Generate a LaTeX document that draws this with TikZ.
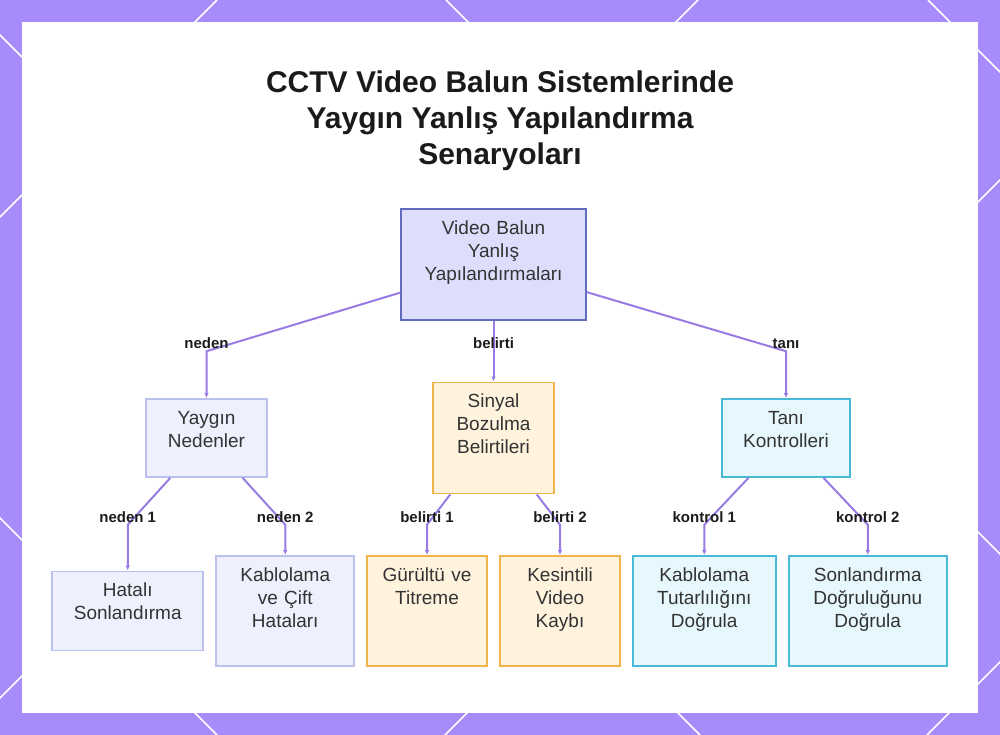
\documentclass[tikz,border=0pt]{standalone}
\usepackage{fontspec}
\setmainfont{Liberation Sans}
\usepackage{xcolor}
\usetikzlibrary{arrows.meta,calc}

\definecolor{bgpurple}{RGB}{167,139,250}
\definecolor{edgepurple}{RGB}{152,124,228}
\definecolor{rootfill}{RGB}{220,222,252}
\definecolor{rootline}{RGB}{98,108,190}
\definecolor{causefill}{RGB}{238,240,253}
\definecolor{causeline}{RGB}{186,193,236}
\definecolor{signfill}{RGB}{255,243,222}
\definecolor{signline}{RGB}{240,181,72}
\definecolor{checkfill}{RGB}{230,248,253}
\definecolor{checkline}{RGB}{72,186,214}
\definecolor{nodetext}{RGB}{51,51,51}
\definecolor{labeltext}{RGB}{28,28,28}

\tikzset{
    sz/.style 2 args={text width=#1, text depth=#2},
    basebox/.style={draw, line width=1.8pt, inner xsep=4pt, inner ysep=0pt,
        text height=25pt, align=center},
    rootbox/.style={basebox, draw=rootline, fill=rootfill},
    causebox/.style={basebox, draw=causeline, fill=causefill},
    signbox/.style={basebox, draw=signline, fill=signfill},
    checkbox/.style={basebox, draw=checkline, fill=checkfill},
    elabel/.style={font=\fontsize{15}{18}\selectfont\bfseries, text=labeltext,
        pos=0, anchor=base, yshift=2.5pt, inner sep=0pt},
    bgline/.style={white, line width=1.6pt}
}

\begin{document}
\begin{tikzpicture}[
    x=1pt, y=-1pt,
    level 1/.style={sibling distance=290pt, level distance=173.5pt},
    level 2/.style={level distance=173pt},
    child anchor=north,
    edge from parent/.style={draw=edgepurple, line width=2pt, -{Latex[length=5pt,width=4.5pt]}},
    edge from parent path={(\tikzparentnode) -- ($(\tikzparentnode -| \tikzchildnode)+(0,86.75)$) -- (\tikzchildnode\tikzchildanchor)},
    every node/.style={font=\fontsize{19}{23}\selectfont, text=nodetext}
]
\useasboundingbox (0,0) rectangle (1000,735);
\fill[bgpurple] (0,0) rectangle (1000,735);
\begin{scope}
    \clip (0,0) rectangle (1000,735);
    \foreach \c in {217,698,1180,1662}
        \draw[bgline] (\c,0) -- ++(-735,735);
    \foreach \c in {-518,-35,446,928}
        \draw[bgline] (\c,0) -- ++(735,735);
\end{scope}
\fill[white] (22,22) rectangle (978,713);

\node (title) [anchor=north, inner sep=0pt, align=center, text={rgb,255:red,26;green,26;blue,26},
    font=\fontsize{30}{36}\selectfont\bfseries] at (500,71)
    {CCTV Video Balun Sistemlerinde\\Yaygın Yanlış Yapılandırma\\Senaryoları};

\node (root) [rootbox, sz={177pt}{86pt}] at (493.5,264.5) {Video Balun\\Yanlış\\Yapılandırmaları}
    child[xshift=3pt] {node (cause) [causebox, sz={113pt}{53pt}] {Yaygın\\Nedenler}
        child[sibling distance=157.5pt] {node (term) [causebox, sz={143pt}{54pt}] {Hatalı\\Sonlandırma}
            edge from parent node[elabel] {neden 1}}
        child[sibling distance=157.5pt] {node (wiring) [causebox, sz={130pt}{85pt}] {Kablolama\\ve Çift\\Hataları}
            edge from parent node[elabel] {neden 2}}
        edge from parent node[elabel] {neden}
    }
    child {node (sign) [signbox, sz={113pt}{86pt}] {Sinyal\\Bozulma\\Belirtileri}
        child[sibling distance=133pt] {node (noise) [signbox, sz={112pt}{85pt}] {Gürültü ve\\Titreme}
            edge from parent node[elabel] {belirti 1}}
        child[sibling distance=133pt] {node (loss) [signbox, sz={112pt}{85pt}] {Kesintili\\Video\\Kaybı}
            edge from parent node[elabel] {belirti 2}}
        edge from parent node[elabel] {belirti}
    }
    child[xshift=2.5pt] {node (check) [checkbox, sz={120pt}{53pt}] {Tanı\\Kontrolleri}
        child[sibling distance=163.5pt] {node (wirecheck) [checkbox, sz={135pt}{85pt}] {Kablolama\\Tutarlılığını\\Doğrula}
            edge from parent node[elabel] {kontrol 1}}
        child[sibling distance=163.5pt] {node (termcheck) [checkbox, sz={150pt}{85pt}] {Sonlandırma\\Doğruluğunu\\Doğrula}
            edge from parent node[elabel] {kontrol 2}}
        edge from parent node[elabel] {tanı}
    };
\end{tikzpicture}
\end{document}
